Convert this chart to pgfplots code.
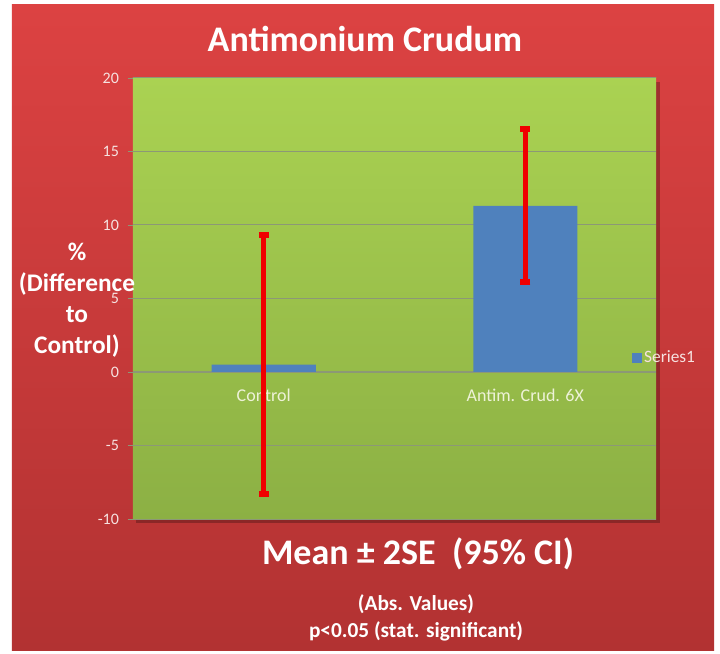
\documentclass[border=0pt]{standalone}
\usepackage{pgfplots}
\pgfplotsset{compat=1.18}
\usepackage{fontspec}
\setmainfont{Carlito}
\definecolor{bgtop}{RGB}{220,66,66}
\definecolor{bgbot}{RGB}{178,50,50}
\definecolor{gtop}{RGB}{170,210,82}
\definecolor{gbot}{RGB}{140,176,68}
\definecolor{barblue}{RGB}{79,129,189}
\definecolor{errred}{RGB}{240,0,0}
\definecolor{gridc}{RGB}{140,152,118}
\definecolor{ticktxt}{RGB}{246,226,224}
\definecolor{cattxt}{RGB}{238,242,216}
\begin{document}
\begin{tikzpicture}
\path[use as bounding box, fill=white] (-99.75pt,-100.5pt) rectangle (440.25pt,389.25pt);
\fill[top color=bgtop,bottom color=bgbot] (-90.75pt,-98.25pt) rectangle (435.75pt,385.5pt);
\fill[black,opacity=0.25] (2pt,-3pt) rectangle (395pt,328pt);
\begin{axis}[
  at={(0pt,0pt)}, anchor=south west,
  scale only axis, width=392.25pt, height=330.75pt,
  xmin=-0.5, xmax=1.5, ymin=-10, ymax=20,
  ytick={-10,-5,0,5,10,15,20},
  xtick={0,1}, xticklabels={Control, Antim. Crud. 6X},
  axis x line=middle, axis y line=left,
  axis line style={-, draw=gridc},
  y axis line style={draw=none},
  axis background/.style={top color=gtop, bottom color=gbot},
  ymajorgrids, grid style={gridc, line width=0.75pt},
  tick align=outside, major tick length=4pt,
  ytick style={gridc}, xtick style={draw=none},
  /pgf/number format/assume math mode=true,
  yticklabel style={font=\fontsize{12}{14}\selectfont, text=ticktxt, xshift=-3pt},
  xticklabel style={font=\fontsize{13.5}{15}\selectfont, text=cattxt, yshift=-5pt},
  ybar, bar width=78pt,
  legend style={at={(0.954,0.365)}, anchor=west, draw=none, fill=none,
     font=\fontsize{13}{15}\selectfont, text=ticktxt, inner sep=0pt,
     /tikz/every even column/.append style={column sep=0pt}},
  legend image code/.code={\fill[barblue] (0pt,-3.5pt) rectangle (7pt,3.5pt);},
]
\addplot[ybar, fill=barblue, draw=none,
  error bars/.cd, y dir=both, y explicit,
  error bar style={line width=3.75pt, errred},
  error mark options={errred, line width=4.5pt, mark size=3.75pt, rotate=90}]
coordinates {(0,0.5) +- (0,8.8) (1,11.3) +- (0,5.2)};
\addlegendentry{Series1}
\end{axis}
\node[align=center, text=white, font=\bfseries\fontsize{19}{23.25}\selectfont] at (-42pt,164pt) {\%\\(Difference\\to\\Control)};
\node[anchor=base, text=white, font=\bfseries\fontsize{27}{30}\selectfont] at (174pt,350.25pt) {Antimonium Crudum};
\node[anchor=base, text=white, font=\bfseries\fontsize{27}{30}\selectfont] at (213.75pt,-34pt) {Mean ± 2SE\ \ (95\% CI)};
\node[anchor=base, text=white, font=\bfseries\fontsize{16}{18}\selectfont] at (212.25pt,-68.25pt) {(Abs. Values)};
\node[anchor=base, text=white, font=\bfseries\fontsize{16}{18}\selectfont] at (212.25pt,-89pt) {p<0.05 (stat. significant)};
\end{tikzpicture}
\end{document}
